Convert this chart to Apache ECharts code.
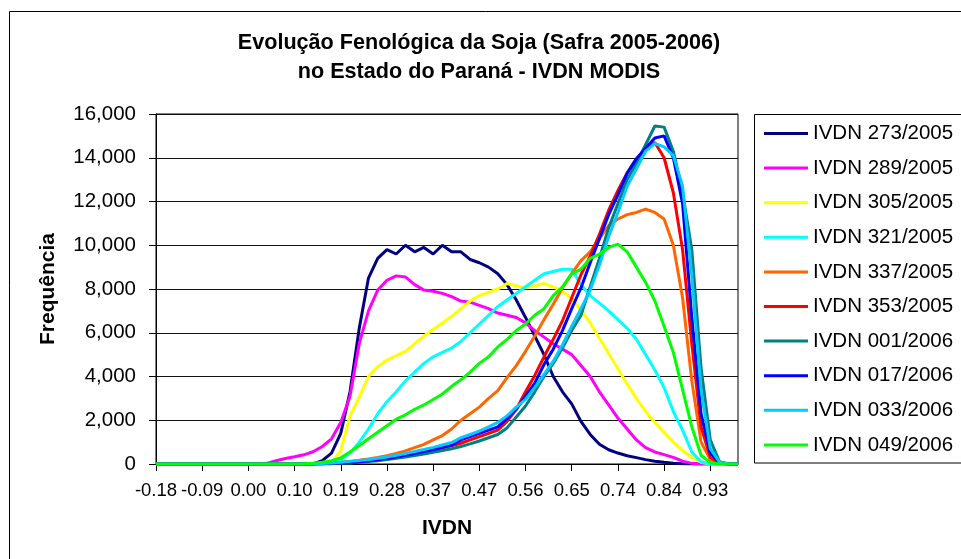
<!DOCTYPE html>
<html>
<head>
<meta charset="utf-8">
<script src="https://cdn.jsdelivr.net/npm/echarts@6/dist/echarts.min.js"></script>
<style>html,body{margin:0;padding:0;background:#fff;}#c{width:961px;height:559px;}</style>
</head>
<body>
<div id="c"></div>
<script>
// IVDN bin centres (category axis)
const categories = [-0.180,-0.162,-0.143,-0.125,-0.106,-0.088,-0.069,-0.051,-0.032,-0.014,
  0.005,0.024,0.042,0.061,0.079,0.098,0.116,0.135,0.153,0.172,
  0.190,0.209,0.227,0.246,0.264,0.283,0.301,0.320,0.338,0.357,
  0.375,0.394,0.412,0.431,0.449,0.468,0.486,0.505,0.523,0.542,
  0.560,0.579,0.597,0.616,0.634,0.653,0.671,0.690,0.708,0.727,
  0.745,0.764,0.782,0.801,0.819,0.838,0.856,0.875,0.893,0.912,
  0.930,0.949,0.967,0.986];
const tickLabels = ['-0.18','-0.09','0.00','0.10','0.19','0.28','0.37','0.47','0.56','0.65','0.74','0.84','0.93'];

const s273_2005 = [0,0,0,0,0,0,0,0,0,0, 0,0,0,0,0,0,0,0,150,500,
  1400,3300,6200,8500,9400,9800,9600,10000,9700,9900,
  9600,10000,9700,9700,9350,9200,9000,8700,8200,7500,
  6700,5850,5000,4000,3300,2750,1950,1350,900,650,
  500,380,290,200,130,80,40,10,0,0, 0,0,0,0];
const s289_2005 = [0,0,0,0,0,0,0,0,0,0, 0,0,30,150,250,330,420,560,800,1150,
  1900,3100,5500,7000,7950,8400,8600,8550,8200,7950,
  7900,7800,7650,7450,7400,7250,7100,6900,6800,6700,
  6450,6100,5800,5500,5250,5000,4500,4000,3300,2700,
  2100,1600,1100,750,550,430,300,130,30,0, 0,0,0,0];
const s305_2005 = [0,0,0,0,0,0,0,0,0,0, 0,0,0,0,0,0,0,0,0,50,
  600,2200,3050,4000,4450,4750,4950,5150,5500,5850,
  6150,6450,6750,7100,7450,7700,7850,8000,8250,8150,
  8050,8150,8250,8100,7900,7550,7050,6450,5750,5050,
  4350,3650,3000,2400,1900,1450,1000,620,300,80, 0,0,0,0];
const s321_2005 = [0,0,0,0,0,0,0,0,0,0, 0,0,0,0,0,0,0,0,0,0,
  200,500,1000,1600,2300,2850,3300,3800,4200,4600,
  4900,5100,5300,5600,6000,6400,6800,7200,7500,7800,
  8100,8400,8700,8800,8900,8900,8200,7700,7350,7000,
  6600,6200,5700,5000,4300,3500,2400,1550,550,100, 0,0,0,0];
const s337_2005 = [0,0,0,0,0,0,0,0,0,0, 0,0,0,0,0,0,0,0,20,50,
  80,120,170,230,300,380,480,600,750,900,
  1100,1300,1600,2000,2300,2600,3000,3350,3950,4500,
  5150,5850,6600,7300,8050,8700,9300,9700,10300,10900,
  11200,11400,11500,11650,11500,11200,10000,7600,3800,1000,
  200,20,0,0];
const s353_2005 = [0,0,0,0,0,0,0,0,0,0, 0,0,0,0,0,0,0,0,20,40,
  60,90,120,160,200,260,320,400,480,560,
  640,730,830,950,1100,1250,1400,1550,1950,2500,
  3300,4050,4900,5700,6550,7600,8650,9500,10500,11600,
  12500,13300,13950,14400,14700,14000,12400,9800,5500,1700,
  300,50,0,0];
const s001_2006 = [0,0,0,0,0,0,0,0,0,0, 0,0,0,0,0,0,0,0,0,10,
  30,50,80,110,150,200,260,320,390,460,
  540,620,700,800,920,1050,1200,1350,1650,2150,
  2650,3300,4000,4600,5300,6100,6800,8100,9400,10800,
  11900,13000,13750,14600,15450,15400,14300,12400,9800,4400,
  1100,100,0,0];
const s017_2006 = [0,0,0,0,0,0,0,0,0,0, 0,0,0,0,0,0,0,0,10,30,
  50,70,100,140,190,250,320,400,480,570,
  660,760,870,1100,1250,1400,1550,1700,2100,2500,
  3100,3700,4550,5250,6100,7100,8050,9200,10300,11400,
  12300,13300,13950,14450,14900,15000,14000,11900,6700,2300,
  500,60,0,0];
const s033_2006 = [0,0,0,0,0,0,0,0,0,0, 0,0,0,0,0,0,0,0,20,50,
  80,120,160,200,260,320,400,480,570,660,
  760,870,980,1200,1350,1500,1700,1900,2200,2600,
  2950,3500,4100,4700,5450,6300,7100,7950,9100,10400,
  11500,12700,13500,14300,14650,14500,14100,12700,8600,3400,
  700,80,0,0];
const s049_2006 = [0,0,0,0,0,0,0,0,0,0, 0,0,0,0,0,0,10,30,80,150,
  280,550,850,1150,1450,1750,2050,2250,2500,2700,
  2950,3200,3550,3850,4200,4600,4900,5350,5700,6100,
  6400,6800,7100,7700,8100,8700,8900,9400,9600,9900,
  10050,9700,9000,8300,7450,6300,5100,3400,1700,400,
  60,0,0,0];

const seriesNames = ['IVDN 273/2005','IVDN 289/2005','IVDN 305/2005','IVDN 321/2005','IVDN 337/2005',
  'IVDN 353/2005','IVDN 001/2006','IVDN 017/2006','IVDN 033/2006','IVDN 049/2006'];
const seriesData = [s273_2005,s289_2005,s305_2005,s321_2005,s337_2005,s353_2005,s001_2006,s017_2006,s033_2006,s049_2006];
const seriesColors = ['#000080','#FF00FF','#FFFF00','#00FFFF','#FF6600','#FF0000','#008080','#0000FF','#00CCFF','#00FF00'];

const FONT = '"Liberation Sans", Arial, sans-serif';
const chart = echarts.init(document.getElementById('c'), null, {renderer: 'canvas'});
chart.setOption({
  animation: false,
  backgroundColor: '#fff',
  textStyle: {fontFamily: FONT, color: '#000'},
  title: {
    text: 'Evolução Fenológica da Soja (Safra 2005-2006)\nno Estado do Paraná - IVDN MODIS',
    left: 474, top: 24, textAlign: 'center',
    textStyle: {fontFamily: FONT, fontSize: 21.6, fontWeight: 'bold', color: '#000', lineHeight: 29}
  },
  grid: {left: 156, right: 223, top: 114, bottom: 95, show: true, borderColor: '#000', borderWidth: 1, containLabel: false},
  legend: {
    orient: 'vertical', left: 764, top: 123, padding: 0,
    icon: 'rect', itemWidth: 44, itemHeight: 3, itemGap: 13.6,
    textStyle: {fontFamily: FONT, fontSize: 20.5, color: '#000', lineHeight: 20},
    data: seriesNames
  },
  xAxis: {
    type: 'category', data: categories, boundaryGap: false,
    name: 'IVDN', nameLocation: 'middle', nameGap: 54,
    nameTextStyle: {fontFamily: FONT, fontSize: 21, fontWeight: 'bold', color: '#000'},
    axisLine: {lineStyle: {color: '#000', width: 1}},
    axisTick: {interval: 4, length: 7, lineStyle: {color: '#000'}},
    axisLabel: {interval: 4, margin: 17, fontSize: 18.5, color: '#000', fontFamily: FONT, lineHeight: 20,
      formatter: function (v, i) { return i % 5 === 0 ? tickLabels[i / 5] : ''; }},
    splitLine: {show: false}
  },
  yAxis: {
    type: 'value', min: 0, max: 16000, interval: 2000,
    name: 'Frequência', nameLocation: 'middle', nameGap: 97, nameRotate: 90,
    nameTextStyle: {fontFamily: FONT, fontSize: 21, fontWeight: 'bold', color: '#000'},
    axisLine: {show: true, lineStyle: {color: '#000', width: 1}},
    axisTick: {show: true, length: 7, lineStyle: {color: '#000'}},
    axisLabel: {margin: 20, fontSize: 20.5, color: '#000', fontFamily: FONT,
      formatter: function (v) { return v.toLocaleString('en-US'); }},
    splitLine: {lineStyle: {color: '#111', width: 1}}
  },
  graphic: [
    {type: 'rect', silent: true, z: -1, shape: {x: 9.5, y: 11.5, width: 1000, height: 600},
      style: {fill: 'none', stroke: '#000', lineWidth: 1}},
    {type: 'rect', silent: true, shape: {x: 754.5, y: 114.5, width: 240, height: 348.5},
      style: {fill: 'none', stroke: '#000', lineWidth: 1}}
  ],
  series: seriesNames.map(function (n, k) {
    return {
      name: n, type: 'line', data: seriesData[k], symbol: 'none', showSymbol: false,
      color: seriesColors[k],
      lineStyle: {color: seriesColors[k], width: 3},
      emphasis: {disabled: true}
    };
  })
});
</script>
</body>
</html>
